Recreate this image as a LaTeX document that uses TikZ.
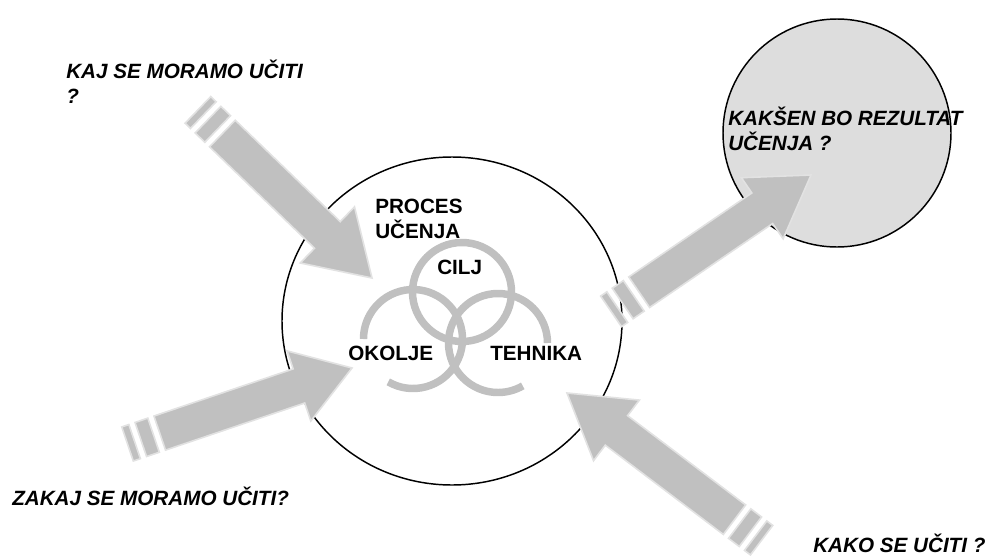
\documentclass[tikz,border=0pt]{standalone}
\usepackage{fontspec}
\setmainfont{Liberation Sans}

\definecolor{arrowgray}{HTML}{C0C0C0}
\definecolor{arrowedge}{HTML}{E2E2E2}
\definecolor{resultfill}{HTML}{DDDDDD}

\tikzset{
  blockarrow/.style={fill=arrowgray, draw=arrowedge, line width=1.2pt, line join=miter},
  ring/.style={draw=arrowgray, line width=5.6pt},
  outline/.style={draw=black, line width=1.1pt},
  qtext/.style={font=\fontsize{15.5}{18.5}\selectfont\bfseries\itshape, inner sep=0pt, align=left},
  innerlabel/.style={font=\fontsize{15.5}{18.5}\selectfont\bfseries, inner sep=0pt, align=left},
}

% striped block arrow: tip x, tip y, direction, shaft length, shaft width, head width, head length
\newcommand\stripedarrow[7]{%
  \begin{scope}[shift={(#1,#2)},rotate=#3]
    \filldraw[blockarrow] (0,0) -- (-#7,#6/2) -- (-#7,#5/2) -- (-#4,#5/2)
      -- (-#4,-#5/2) -- (-#7,-#5/2) -- (-#7,-#6/2) -- cycle;
    \filldraw[blockarrow] (-#4-6.5,-#5/2) rectangle (-#4-20,#5/2);
    \filldraw[blockarrow] (-#4-26.5,-#5/2) rectangle (-#4-34,#5/2);
  \end{scope}}

\begin{document}
\begin{tikzpicture}[x=0.75pt,y=0.75pt]
  \useasboundingbox (0,0) rectangle (996,-557);

  % learning process and result
  \draw[outline, fill=white] (452,-321) ellipse [x radius=170, y radius=164];
  \draw[outline, fill=resultfill] (837,-133) circle [radius=114];

  % the four arrows
  \stripedarrow{372}{-278}{-44}{208}{37}{78}{62}
  \stripedarrow{811}{-175}{34.3}{208}{37}{74}{59}
  \stripedarrow{352}{-368}{18.7}{203}{36}{74}{56}
  \stripedarrow{567}{-393}{142.9}{210}{37}{76}{62}

  % three overlapping rings
  \draw[ring] (462,-292) circle [radius=49.5];
  \draw[ring] (413,-339) ++(240:49.5) arc [start angle=240, end angle=540, radius=49.5];
  \draw[ring] (498,-343) ++(0:49.5) arc [start angle=0, end angle=300, radius=49.5];

  % labels (two-line labels are anchored on their last baseline)
  \node[qtext, anchor=base west] (kaj) at (66,-103.5) {KAJ SE MORAMO UČITI\\?};
  \node[qtext, anchor=base west] (zakaj) at (12,-505) {ZAKAJ SE MORAMO UČITI?};
  \node[qtext, anchor=base west] (kako) at (813,-552) {KAKO SE UČITI ?};
  \node[qtext, anchor=base west] (kaksen) at (728,-150.5) {KAKŠEN BO REZULTAT\\UČENJA ?};
  \node[innerlabel, anchor=base west] (proces) at (375,-238) {PROCES\\UČENJA};
  \node[innerlabel, anchor=base west] (cilj) at (437,-274) {CILJ};
  \node[innerlabel, anchor=base west] (okolje) at (348,-360) {OKOLJE};
  \node[innerlabel, anchor=base west] (tehnika) at (490,-360) {TEHNIKA};
\end{tikzpicture}
\end{document}
